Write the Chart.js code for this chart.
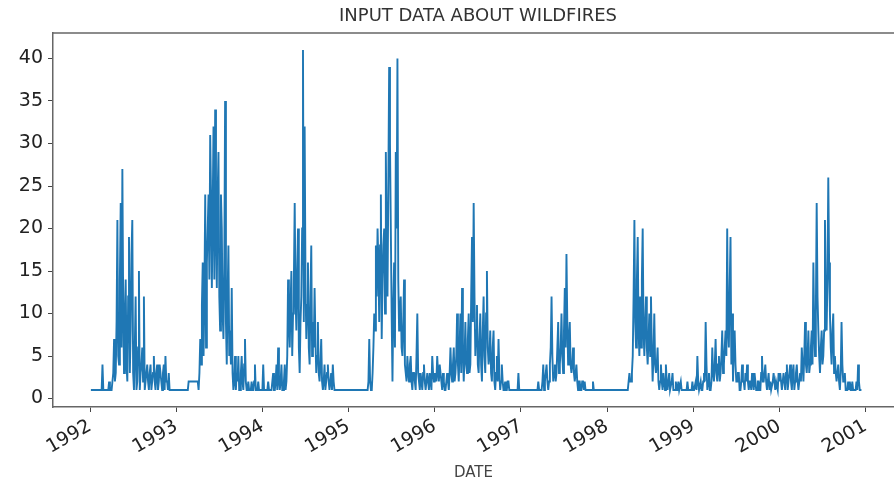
<!DOCTYPE html>
<html>
<head>
<meta charset="utf-8">
<script src="https://cdn.jsdelivr.net/npm/chart.js@4.4.0/dist/chart.umd.min.js"></script>
<style>
  html, body { margin: 0; padding: 0; background: #fff; overflow: hidden; }
</style>
</head>
<body>
<canvas id="fireChart" width="894" height="482"></canvas>
<script>
// fire counts, one array per year (week 0..51)
const fires1992 = [1,1,1,1,1,1,1,4,1,1,1,2,1,2, 7,3,21,4,23,27,3,14,2,19, 8,21,1,12,2,15,3,6,12,2, 4,1,4,2,5,1,4,2,3,1, 4,5,2,3,1,1,1,1];
const fires1993 = [1,1,1,1,1,1,1,2,2,2,2,2,2,1, 7,11,5,24,16,24,31,13,32,34, 13,29,8,20,7,35,4,18,8,13, 1,5,3,5,1,5,1,7,1,2, 1,2,1,4,1,2,1,1];
const fires1994 = [4,1,1,2,1,1,3,1,4,6, 1,4,1,4,2,14,6,15,10,23, 8,20,3,12,41,32,7,16,4,18, 9,13,3,9,2,7,1,4,2,4, 1,3,4,1,1,1,1,1,1,1,1,1];
const fires1995 = [1,1,1,1,1,1,1,1,1,1,1,1, 7,1,3,10,18,20,9,24,14,20, 29,12,39,20,2,16,29,40,8,12, 5,14,3,5,2,5,1,3,1,10, 2,3,1,4,1,3,1,2,5,2];
const fires1996 = [3,5,2,3,1,2,1,3,1,6, 2,6,3,10,2,10,13,2,9,3, 10,4,19,23,5,11,3,10,2,12, 3,15,4,8,2,8,1,5,7,1, 4,1,2,1,2,1,1,1,1,1, 3,1];
const fires1997 = [1,1,1,1,1,1,1,1,1,1, 2,1,1,4,2,4,1,4,12,2, 4,3,9,4,10,3,13,17,4,9, 3,6,2,4,1,2,1,2,2,1, 1,1,1,2, 1,1,1,1,1,1,1,1];
const fires1998 = [1,1,1,1,1,1,1,1,1,1,1,1,1, 3,2,5,21,6,19,5,6,20, 5,12,4,10,12,2,10,3,6,1, 4,1,2,4,1,3,1,3,1,2, 1,1,2,1,1,1,2,1,1,2];
const fires1999 = [1,2,5,1,2,1,3,9,1,3, 1,6,2,7,2,5,3,8,4,8, 20,6,19,10,6,4,2,3,1,4, 2,3,4,1,2,3,1,2,1,2, 1,5,2,4,1,3,2,1,3,1, 2,3];
const fires2000 = [3,1,3,1,4,2,4,1,4,2, 4,1,3,6,2,9,3,8,4,8, 16,5,23,8,3,8,5,21,8,26, 10,4,10,5,2,4,1,9,2,3, 1,2,2,1,1,1,2,4,1,1];

// mid-week readings (between week w and w+1)
const mid1992 = [1,1,1,1,1,1,1,1,1,1,1,1,1,3, 2,9,5,14,6,11,10,4,12,3, 17,3,6,1,6,1,4,2,1,3, 2,3,1,3,2,3,1,4,2,3, 1,2,1,1,1,1,1,1];
const mid1993 = [1,1,1,1,1,1,1,2,2,2,2,2,2,3, 4,16,12,6,20,14,24,22,14,20, 24,12,24,10,15,9,12,5,4,3, 2,1,2,1,3,2,4,2,1,1, 1,1,2,1,1,1,1,1];
const mid1994 = [1,1,1,1,1,2,1,2,1,2,2,1,2,1,5, 9,11,5,14,12,15,6,9,20,9, 14,11,6,12,5,6,7,5,3,4, 2,2,1,3,2,2,1,2, 1,1,1,1,1,1,1,1,1];
const mid1995 = [1,1,1,1,1,1,1,1,1,1,1, 2,2,1,6,8,12,16,18,7,18, 10,18,25,30,10,11,6,20,14,10, 6,9,4,2,3,4,2,3,2,5, 3,1,2,3,2,2,2,3,1,3, 2];
const mid1996 = [2,3,4,2,3,1,2,2,3,3, 4,2,5,4,6,3,6,5,4,7, 3,12,9,12,8,4,7,4,8,5, 10,6,5,3,6,2,3,2,3,2, 2,1,1,2,1,1,1,1,1,1, 1,1];
const mid1997 = [1,1,1,1,1,1,1,1,1,1, 1,1,2,1,3,2,2,6,5,3, 2,6,3,6,5,8,6,9,7,4, 4,3,3,2,2,1,2,1,1,1, 1,1,1,1,1,1,1,1,1,1,1,1];
const mid1998 = [1,1,1,1,1,1,1,1,1,1,1,1, 2,2,3,12,9,14,8,12,14,8, 9,6,7,5,6,5,4,4,2,2, 2,3,1,2,2,1,2,1,1,1, 2,1,1,1,1,1,1,1,1,1];
const mid1999 = [1,1,2,1,1,2,2,4,2,1, 2,3,4,3,4,2,5,3,6,5, 8,13,4,2,8,2,3,1,2,2, 1,2,2,2,1,2,3,1,2,1, 3,2,3,2,2,1,1,2,2,2, 1,2];
const mid2000 = [2,2,2,3,1,3,2,3,1,3, 2,2,2,4,5,4,5,3,6,4, 8,10,12,5,6,4,8,12,14,16, 6,8,3,3,3,2,3,4,2,1, 1,1,1,2,1,1,1,2,1];

const dataYears = [1992, 1993, 1994, 1995, 1996, 1997, 1998, 1999, 2000];
const firesByYear = [fires1992, fires1993, fires1994, fires1995, fires1996, fires1997, fires1998, fires1999, fires2000];
const midByYear = [mid1992, mid1993, mid1994, mid1995, mid1996, mid1997, mid1998, mid1999, mid2000];

const xTickYears = [1992, 1993, 1994, 1995, 1996, 1997, 1998, 1999, 2000, 2001];
const xTickLabels = ['1992', '1993', '1994', '1995', '1996', '1997', '1998', '1999', '2000', '2001'];
const yTickValues = [0, 5, 10, 15, 20, 25, 30, 35, 40];

const chartTitle = 'INPUT DATA ABOUT WILDFIRES';
const axisTitle = 'DATE';

// date of each reading as a decimal year
const points = [];
dataYears.forEach((yr, i) => {
    firesByYear[i].forEach((v, w) => {
        points.push({ x: yr + (w + 0.5) / 52, y: v });
        if (midByYear[i][w] !== undefined) points.push({ x: yr + (w + 1) / 52, y: midByYear[i][w] });
    });
});

// top spine + title (matplotlib style)
const frameTop = {
    id: 'frameTop',
    afterDraw(chart) {
        const { ctx, chartArea } = chart;
        ctx.save();
        ctx.strokeStyle = '#666';
        ctx.lineWidth = 1.5;
        ctx.beginPath();
        ctx.moveTo(chartArea.left, chartArea.top);
        ctx.lineTo(chartArea.right, chartArea.top);
        ctx.stroke();
        ctx.font = '18px "DejaVu Sans"';
        ctx.fillStyle = '#333';
        ctx.textAlign = 'center';
        ctx.textBaseline = 'middle';
        ctx.fillText(chartTitle, chartArea.left + 425, 16);
        ctx.restore();
    }
};

const ctx = document.getElementById('fireChart').getContext('2d');

let fireChart = new Chart(ctx, {
    type: 'line',
    data: {
        datasets: [{
            data: points,
            borderColor: '#1f77b4',
            borderWidth: 1.9,
            pointRadius: 0,
            fill: false,
            tension: 0
        }]
    },
    options: {
        animation: false,
        responsive: false,
        devicePixelRatio: 1,
        layout: { padding: { top: 33, right: 0, left: 0, bottom: 0 } },
        plugins: {
            legend: { display: false },
            tooltip: { enabled: false },
            title: { display: false }
        },
        scales: {
            x: {
                type: 'linear',
                min: 1991.57,
                max: 2001.33,
                afterBuildTicks: s => { s.ticks = xTickYears.map(v => ({ value: v })); },
                afterFit: s => { s.height = 75; },
                ticks: {
                    callback: (v, i) => xTickLabels[i],
                    autoSkip: false,
                    minRotation: 30,
                    maxRotation: 30,
                    padding: 3,
                    color: '#222',
                    font: { family: 'DejaVu Sans', size: 19 }
                },
                grid: { drawOnChartArea: false, drawTicks: true, tickLength: 5, color: '#444' },
                border: { display: true, color: '#666', width: 1.5 },
                title: {
                    display: true,
                    text: axisTitle,
                    color: '#444',
                    font: { family: 'DejaVu Sans', size: 15 },
                    padding: { top: 0, bottom: 0 }
                }
            },
            y: {
                min: -1,
                max: 43,
                afterBuildTicks: s => { s.ticks = yTickValues.map(v => ({ value: v })); },
                afterFit: s => { s.width = 53; },
                ticks: {
                    padding: 5,
                    color: '#222',
                    font: { family: 'DejaVu Sans', size: 19 }
                },
                grid: { drawOnChartArea: false, drawTicks: true, tickLength: 5, color: '#444' },
                border: { display: true, color: '#666', width: 1.5 }
            }
        }
    },
    plugins: [frameTop]
});
</script>
</body>
</html>
